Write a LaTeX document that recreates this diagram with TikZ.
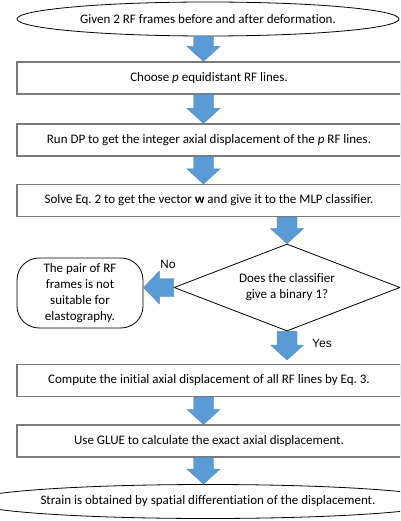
\documentclass[tikz,border=0pt]{standalone}
\usepackage{fontspec}
\setmainfont{Carlito}[Ligatures=NoCommon]
\newfontfamily\arialf{Liberation Sans}
\usetikzlibrary{shapes.geometric,calc}
\definecolor{arrowblue}{HTML}{5B9BD5}
\definecolor{arrowedge}{HTML}{4F8CC9}
\definecolor{boxgray}{HTML}{7A7A7A}
\frenchspacing
\newcommand{\blkdown}[2]{\path[blockarrow] let \p1=(#1), \p2=(#2) in
  (\x1-10pt,\y1) -- (\x1+10pt,\y1) -- (\x1+10pt,\y2+15pt) -- (\x1+16.5pt,\y2+15pt)
  -- (\x1,\y2) -- (\x1-16.5pt,\y2+15pt) -- (\x1-10pt,\y2+15pt) -- cycle;}
\newcommand{\blkleft}[2]{\path[blockarrow] let \p1=(#1), \p2=(#2) in
  (\x1,\y1+9pt) -- (\x1,\y1-9pt) -- (\x2+16pt,\y1-9pt) -- (\x2+16pt,\y1-16.5pt)
  -- (\x2,\y1) -- (\x2+16pt,\y1+16.5pt) -- (\x2+16pt,\y1+9pt) -- cycle;}
\begin{document}
\begin{tikzpicture}[x=1pt,y=1pt,font=\fontsize{13}{16}\selectfont\frenchspacing,
  procbox/.style={draw=boxgray,line width=1.1pt,minimum width=384pt,minimum height=32pt,inner sep=0pt},
  termshape/.style={ellipse,draw=black,line width=0.8pt,minimum width=382pt,minimum height=34pt,inner sep=0pt},
  decshape/.style={diamond,draw=black,line width=0.8pt,minimum width=226pt,minimum height=87pt,inner sep=0pt,aspect=2.6,align=center},
  sidebox/.style={draw=black,line width=0.8pt,rounded corners=22pt,minimum width=126pt,minimum height=70pt,align=center,inner sep=0pt},
  blockarrow/.style={fill=arrowblue,draw=arrowedge,line width=0.4pt},
  lbl/.style={inner sep=0pt}]
\useasboundingbox (0,0) rectangle (400,-521);
\clip (0,0) rectangle (400,-521);
\coordinate (ax) at (203.5,0);
\coordinate (bx) at (287,0);
\node[termshape] (start) at (208,-19) {Given 2 RF frames before and after deformation.};
\node[procbox] (choose) at (209,-78) {Choose \textit{p} equidistant RF lines.};
\node[procbox] (rundp) at (209,-140) {Run DP to get the integer axial displacement of the \textit{p} RF lines.};
\node[procbox] (solve) at (209,-200.5) {Solve Eq. 2 to get the vector \textbf{w} and give it to the MLP classifier.};
\node[decshape] (dec) at (287,-287.5) {Does the classifier\\give a binary 1?};
\node[sidebox] (notsuit) at (80,-293) {The pair of RF\\frames is not\\suitable for\\elastography.};
\node[procbox] (compute) at (209,-380.5) {Compute the initial axial displacement of all RF lines by Eq. 3.};
\node[procbox] (glue) at (209,-441) {Use GLUE to calculate the exact axial displacement.};
\node[termshape] (strain) at (208,-501.5) {Strain is obtained by spatial differentiation of the displacement.};
\coordinate (yesend) at (287,-360);
\node[lbl] (nolbl) at (168,-264) {No};
\node[lbl,font=\arialf\fontsize{12}{14}\selectfont] (yeslbl) at (322,-343) {Yes};
\blkdown{start.south -| ax}{choose.north -| ax}
\blkdown{choose.south -| ax}{rundp.north -| ax}
\blkdown{rundp.south -| ax}{solve.north -| ax}
\blkdown{solve.south -| bx}{dec.north}
\blkleft{dec.west}{notsuit.east |- dec.west}
\blkdown{dec.south}{yesend}
\blkdown{compute.south -| ax}{glue.north -| ax}
\blkdown{glue.south -| ax}{strain.north -| ax}
\end{tikzpicture}
\end{document}
